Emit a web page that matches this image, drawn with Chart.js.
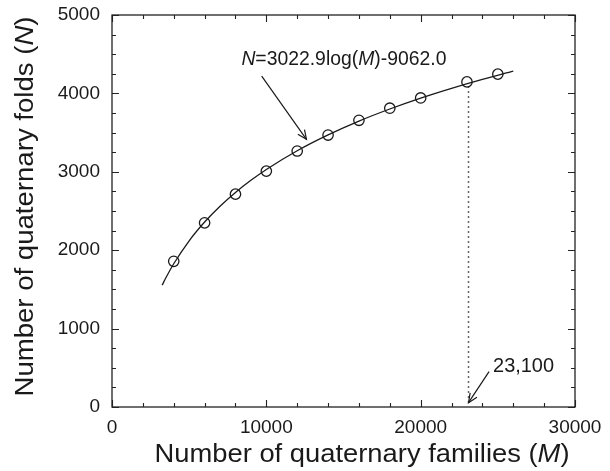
<!DOCTYPE html>
<html><head><meta charset="utf-8">
<script src="https://cdn.jsdelivr.net/npm/chart.js@4.4.1/dist/chart.umd.min.js"></script>
<style>html,body{margin:0;padding:0;background:#fff}canvas{display:block}</style>
</head><body>
<canvas id="c" width="610" height="471"></canvas>
<script>
// ---- data ----
const families = [4000, 6000, 8000, 10000, 12000, 14000, 16000, 18000, 20000, 23000, 25000];
const folds    = [1858, 2349, 2715, 3009, 3265, 3469, 3657, 3811, 3942, 4147, 4246];
const fitFamilies = [3250, 3500, 4000, 5000, 6000, 7000, 8000, 9000, 10000, 12000, 14000, 16000, 18000, 20000, 22000, 24000, 26000];
const fitFolds    = [1554, 1651, 1827, 2120, 2359, 2561, 2737, 2891, 3030, 3269, 3471, 3647, 3801, 3940, 4065, 4179, 4284];
const cutoffFamilies = [23100, 23100];
const cutoffFolds    = [4090, 50];
const xTicks = [0, 10000, 20000, 30000];
const yTicks = [0, 1000, 2000, 3000, 4000, 5000];
const xTitle = ["Number of quaternary families (", "M", ")"];
const yTitle = ["Number of quaternary folds (", "N", ")"];
const fitLabel = ["N", "=3022.9log(", "M", ")-9062.0"];
const cutoffLabel = "23,100";
// annotation anchors in data units
const fitLabelAt = {x: 8384, y: 4361};
const fitArrow = {from: {x: 9700, y: 4220}, to: {x: 12600, y: 3414}};
const cutoffLabelAt = {x: 24690, y: 451};
const cutoffArrow = {from: {x: 24430, y: 451}, to: {x: 23100, y: 55}};

const FONT = "'Liberation Sans', Arial, Helvetica, sans-serif";
const INK = '#1a1a1a';

function toXY(arrX, arrY){ return arrX.map((x,i)=>({x:x, y:arrY[i]})); }

function drawRich(ctx, segs, italicIdx, size, x, y, targetWidth, align){
  let widths = segs.map((s,i)=>{ ctx.font = (italicIdx.includes(i)?'italic ':'') + size + 'px ' + FONT; return ctx.measureText(s).width; });
  const total = widths.reduce((a,b)=>a+b,0);
  const sc = targetWidth ? targetWidth/total : 1;
  ctx.save();
  ctx.translate(x, y);
  ctx.scale(sc, 1);
  let cx = align === 'center' ? -total/2 : 0;
  ctx.textBaseline = 'alphabetic';
  ctx.textAlign = 'left';
  segs.forEach((s,i)=>{ ctx.font = (italicIdx.includes(i)?'italic ':'') + size + 'px ' + FONT; ctx.fillText(s, cx, 0); cx += widths[i]; });
  ctx.restore();
}

function arrow(ctx, x1, y1, x2, y2){
  ctx.beginPath(); ctx.moveTo(x1,y1); ctx.lineTo(x2,y2); ctx.stroke();
  const a = Math.atan2(y2-y1, x2-x1), L = 10, w = 0.42;
  ctx.beginPath();
  ctx.moveTo(x2 - L*Math.cos(a-w), y2 - L*Math.sin(a-w));
  ctx.lineTo(x2, y2);
  ctx.lineTo(x2 - L*Math.cos(a+w), y2 - L*Math.sin(a+w));
  ctx.stroke();
}

const decor = {
  id: 'decor',
  afterDraw(chart){
    const ctx = chart.ctx, a = chart.chartArea, xs = chart.scales.x, ys = chart.scales.y;
    ctx.save();
    ctx.strokeStyle = '#222'; ctx.lineWidth = 1.3;
    ctx.strokeRect(a.left, a.top, a.right - a.left, a.bottom - a.top);
    ctx.lineWidth = 1.1;
    ctx.beginPath();
    for (let v = xs.min; v <= xs.max; v += 2000){
      const p = Math.round(xs.getPixelForValue(v)) + 0.5, L = (v % 10000 === 0) ? 7 : 4;
      ctx.moveTo(p, a.bottom); ctx.lineTo(p, a.bottom - L);
      ctx.moveTo(p, a.top); ctx.lineTo(p, a.top + L);
    }
    for (let v = ys.min; v <= ys.max; v += 250){
      const p = Math.round(ys.getPixelForValue(v)) + 0.5, L = (v % 1000 === 0) ? 7 : 4;
      ctx.moveTo(a.left, p); ctx.lineTo(a.left + L, p);
      ctx.moveTo(a.right, p); ctx.lineTo(a.right - L, p);
    }
    ctx.stroke();

    // annotations
    ctx.fillStyle = INK; ctx.strokeStyle = INK; ctx.lineWidth = 1.2;
    drawRich(ctx, fitLabel, [0,2], 19.5, xs.getPixelForValue(fitLabelAt.x), ys.getPixelForValue(fitLabelAt.y), 205, 'left');
    arrow(ctx, xs.getPixelForValue(fitArrow.from.x), ys.getPixelForValue(fitArrow.from.y), xs.getPixelForValue(fitArrow.to.x), ys.getPixelForValue(fitArrow.to.y));
    drawRich(ctx, [cutoffLabel], [], 20, xs.getPixelForValue(cutoffLabelAt.x), ys.getPixelForValue(cutoffLabelAt.y), 61, 'left');
    arrow(ctx, xs.getPixelForValue(cutoffArrow.from.x), ys.getPixelForValue(cutoffArrow.from.y), xs.getPixelForValue(cutoffArrow.to.x), ys.getPixelForValue(cutoffArrow.to.y));

    // axis titles
    drawRich(ctx, xTitle, [1], 26, 362, 461.5, 415, 'center');
    ctx.save();
    ctx.translate(33, 206.5);
    ctx.rotate(-Math.PI/2);
    drawRich(ctx, yTitle, [1], 26, 0, 0, 380, 'center');
    ctx.restore();
    ctx.restore();
  }
};

new Chart(document.getElementById('c'), {
  type: 'scatter',
  data: {
    datasets: [
      { label: 'fit', data: toXY(fitFamilies, fitFolds), showLine: true, borderColor: INK, borderWidth: 1.3,
        pointRadius: 0, cubicInterpolationMode: 'monotone', fill: false, order: 2 },
      { label: 'cutoff', data: toXY(cutoffFamilies, cutoffFolds), showLine: true, borderColor: '#333', borderWidth: 1.5,
        borderDash: [1.5, 3.5], pointRadius: 0, fill: false, order: 3 },
      { label: 'observed', data: toXY(families, folds), showLine: false, pointStyle: 'circle', pointRadius: 5.2,
        pointBorderWidth: 1.3, pointBorderColor: INK, pointBackgroundColor: 'rgba(0,0,0,0)', order: 1 }
    ]
  },
  options: {
    responsive: false, animation: false, devicePixelRatio: 1,
    layout: { padding: { left: 0, right: 35, top: 15, bottom: 0 } },
    plugins: { legend: { display: false }, tooltip: { enabled: false } },
    scales: {
      x: { type: 'linear', min: 0, max: 30000,
        afterFit: s => { s.height = 64; s.paddingLeft = 0; s.paddingRight = 0; },
        afterBuildTicks: s => { s.ticks = xTicks.map(v => ({value: v})); },
        grid: { display: false, drawTicks: false }, border: { display: false },
        ticks: { color: INK, font: { family: FONT, size: 19 }, padding: 9, maxRotation: 0, callback: v => String(v) } },
      y: { type: 'linear', min: 0, max: 5000,
        afterFit: s => { s.width = 112; s.paddingTop = 0; s.paddingBottom = 0; },
        afterBuildTicks: s => { s.ticks = yTicks.map(v => ({value: v})); },
        grid: { display: false, drawTicks: false }, border: { display: false },
        ticks: { color: INK, font: { family: FONT, size: 19 }, padding: 12, callback: v => String(v) } }
    }
  },
  plugins: [decor]
});
</script>
</body></html>
